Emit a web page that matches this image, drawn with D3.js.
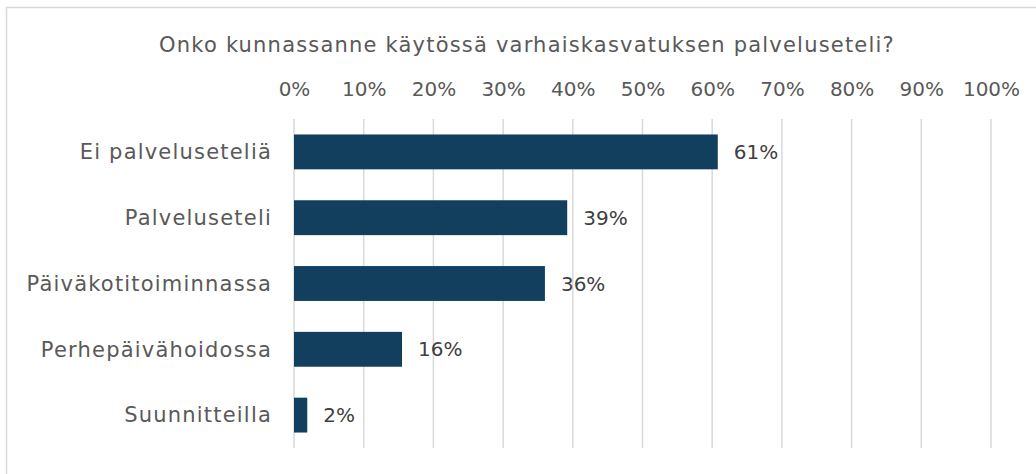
<!DOCTYPE html>
<html>
<head>
<meta charset="utf-8">
<script src="https://cdn.jsdelivr.net/npm/d3@7"></script>
<style>
  body { margin: 0; background: #fff; }
  text { font-family: "DejaVu Sans", sans-serif; }
</style>
</head>
<body>
<script>
"use strict"

/* otsikko ja luokat */
const otsikko = "Onko kunnassanne käytössä varhaiskasvatuksen palveluseteli?";
const luokat = ["Ei palveluseteliä", "Palveluseteli", "Päiväkotitoiminnassa", "Perhepäivähoidossa", "Suunnitteilla"];
/* osuudet prosentteina, luettu kuvasta */
const osuudet = [60.8, 39.2, 36.0, 15.5, 1.9];
const tikit = [0, 10, 20, 30, 40, 50, 60, 70, 80, 90, 100];

const leveys = 1036, korkeus = 474;
const fontti = 20;

const svg = d3.select("body")
    .append("svg")
    .attr("width", leveys)
    .attr("height", korkeus);

/* kehys */
svg.append("rect")
    .attr("x", 6.5).attr("y", 7.5)
    .attr("width", 1100).attr("height", 600)
    .attr("fill", "none")
    .attr("stroke", "#d9d9d9")
    .attr("stroke-width", 1.5);

const x = d3.scaleLinear().domain([0, 100]).range([294, 991]);
const y = d3.scaleBand().domain(luokat).range([119, 448]).paddingInner(0.47).paddingOuter(0.235);

/* pystyviivat */
svg.append("g")
    .selectAll("line")
    .data(tikit)
    .enter()
    .append("line")
    .attr("x1", d => x(d)).attr("x2", d => x(d))
    .attr("y1", 119).attr("y2", 448)
    .attr("stroke", "#d9d9d9")
    .attr("stroke-width", 1.5);

/* akselin tekstit ylhäällä */
const akseli = svg.append("g")
    .attr("transform", "translate(0,96)")
    .call(d3.axisTop(x).tickValues(tikit).tickFormat(d => d + "%").tickSize(0).tickPadding(0));
akseli.select(".domain").remove();
akseli.selectAll("text")
    .attr("font-size", fontti)
    .attr("font-family", "'DejaVu Sans', sans-serif")
    .attr("fill", "#595959");

/* otsikko */
svg.append("text")
    .attr("x", 527).attr("y", 52)
    .attr("text-anchor", "middle")
    .attr("font-size", 21)
    .attr("letter-spacing", 1.2)
    .attr("fill", "#595959")
    .text(otsikko);

/* palkit */
svg.append("g")
    .selectAll("rect")
    .data(luokat)
    .enter()
    .append("rect")
    .attr("x", x(0))
    .attr("y", d => y(d))
    .attr("width", (d, i) => x(osuudet[i]) - x(0))
    .attr("height", y.bandwidth())
    .attr("fill", "#133f5f");

/* luokkien nimet */
svg.append("g")
    .selectAll("text")
    .data(luokat)
    .enter()
    .append("text")
    .attr("x", 272)
    .attr("y", d => y(d) + y.bandwidth() / 2)
    .attr("dy", "0.35em")
    .attr("text-anchor", "end")
    .attr("font-size", 21)
    .attr("letter-spacing", 1.2)
    .attr("fill", "#595959")
    .text(d => d);

/* arvot palkkien perään */
svg.append("g")
    .selectAll("text")
    .data(luokat)
    .enter()
    .append("text")
    .attr("x", (d, i) => x(osuudet[i]) + 16)
    .attr("y", d => y(d) + y.bandwidth() / 2)
    .attr("dy", "0.35em")
    .attr("font-size", fontti)
    .attr("fill", "#404040")
    .text((d, i) => Math.round(osuudet[i]) + "%");
</script>
</body>
</html>
